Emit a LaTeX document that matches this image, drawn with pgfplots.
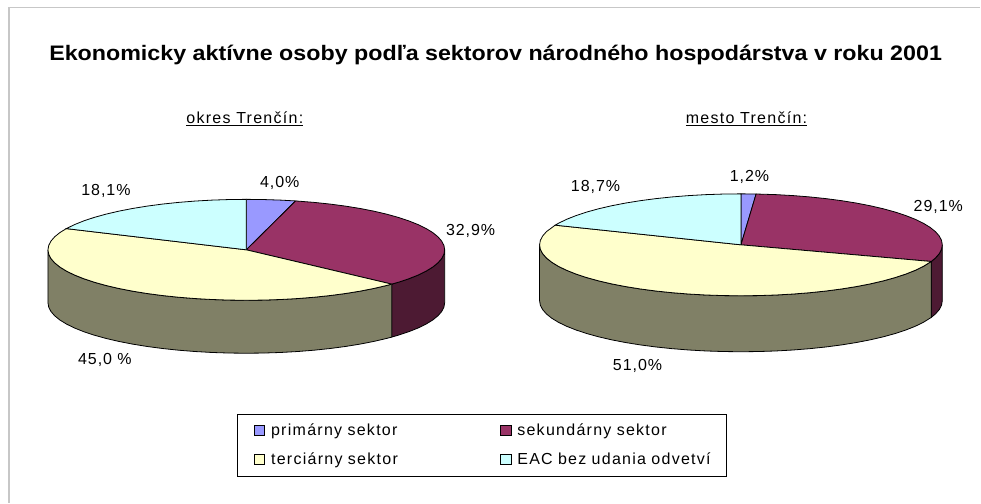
\documentclass[border=0pt]{standalone}
\usepackage{graphicx}
\usepackage{pgfplots}
\pgfplotsset{compat=1.18}
\usepackage{fontspec}
\setmainfont{Liberation Sans}
\newfontfamily\lab[LetterSpace=6]{Liberation Sans}
\newfontfamily\sublab[LetterSpace=8]{Liberation Sans}
\definecolor{cP}{HTML}{9999FF}
\definecolor{cS}{HTML}{993366}
\definecolor{cT}{HTML}{FFFFCC}
\definecolor{cE}{HTML}{CCFFFF}
\definecolor{cSd}{HTML}{4D1A33}
\definecolor{cTd}{HTML}{808066}
\pgfplotsset{
 pieL/.style={/pgfplots/table/row sep=\\,/pgfplots/table/x expr={246.5+198.5*\thisrow{r}*sin(\thisrow{t})},/pgfplots/table/y expr={250-50.5*\thisrow{r}*cos(\thisrow{t})+\thisrow{d}},draw=black,line width=0.8pt,forget plot,no markers},
 pieR/.style={/pgfplots/table/row sep=\\,/pgfplots/table/x expr={741.5+201.5*\thisrow{r}*sin(\thisrow{t})},/pgfplots/table/y expr={245-51*\thisrow{r}*cos(\thisrow{t})+\thisrow{d}},draw=black,line width=0.8pt,forget plot,no markers},
}
\tikzset{lbl/.style={font=\lab\fontsize{16}{18}\selectfont,inner sep=0pt,anchor=center},
 sub/.style={font=\sublab\fontsize{16}{18}\selectfont,inner sep=0pt,anchor=center}}
\begin{document}
\begin{tikzpicture}
\begin{axis}[
 scale only axis,width=981pt,height=503pt,
 xmin=0,xmax=981,ymin=0,ymax=503,y dir=reverse,
 axis lines=none,clip=false,
 legend columns=2,
 legend cell align=left,
 legend image code/.code={\path[draw=none,fill=none] (0pt,0pt) -- (18.5pt,0pt);\draw[#1] (8pt,-5pt) rectangle (18.5pt,5pt);},
 legend style={at={(axis cs:237,414)},anchor=north west,draw=black,line width=0.8pt,
   inner xsep=9pt,inner ysep=10pt,row sep=15.5pt,
   /tikz/column 1/.style={column sep=6pt},
   /tikz/column 3/.style={column sep=6pt},
   /tikz/column 4/.style={nodes={text width=200.5pt}},
   nodes={font=\sublab\fontsize{16}{18}\selectfont,inner sep=0pt,outer sep=0pt,text width=221.5pt,text depth=2pt,text height=11.5pt}},
]
% page extent
\addplot[draw=none,forget plot] coordinates {(0,0) (981,503)};
\path (axis cs:0,0) rectangle (axis cs:981,503);
% frame
\addplot[color=black!22,line width=1.5pt,forget plot] coordinates {(9,503) (9,7.5) (981,7.5)};
% --- left pie: sides
\addplot[pieL,fill=cSd] table {t r d\\ 90 1 0\\ 95 1 0\\ 100 1 0\\ 105 1 0\\ 110 1 0\\ 115 1 0\\ 120 1 0\\ 125 1 0\\ 130 1 0\\ 132.84 1 0\\ 132.84 1 53\\ 130 1 53\\ 125 1 53\\ 120 1 53\\ 115 1 53\\ 110 1 53\\ 105 1 53\\ 100 1 53\\ 95 1 53\\ 90 1 53\\ 90 1 0\\};
\addplot[pieL,fill=cTd] table {t r d\\ 132.84 1 0\\ 135 1 0\\ 140 1 0\\ 145 1 0\\ 150 1 0\\ 155 1 0\\ 160 1 0\\ 165 1 0\\ 170 1 0\\ 175 1 0\\ 180 1 0\\ 185 1 0\\ 190 1 0\\ 195 1 0\\ 200 1 0\\ 205 1 0\\ 210 1 0\\ 215 1 0\\ 220 1 0\\ 225 1 0\\ 230 1 0\\ 235 1 0\\ 240 1 0\\ 245 1 0\\ 250 1 0\\ 255 1 0\\ 260 1 0\\ 265 1 0\\ 270 1 0\\ 270 1 53\\ 265 1 53\\ 260 1 53\\ 255 1 53\\ 250 1 53\\ 245 1 53\\ 240 1 53\\ 235 1 53\\ 230 1 53\\ 225 1 53\\ 220 1 53\\ 215 1 53\\ 210 1 53\\ 205 1 53\\ 200 1 53\\ 195 1 53\\ 190 1 53\\ 185 1 53\\ 180 1 53\\ 175 1 53\\ 170 1 53\\ 165 1 53\\ 160 1 53\\ 155 1 53\\ 150 1 53\\ 145 1 53\\ 140 1 53\\ 135 1 53\\ 132.84 1 53\\ 132.84 1 0\\};
% --- left pie: top
\addplot[pieL,fill=cP] table {t r d\\ 0 0 0\\ 0 1 0\\ 5 1 0\\ 10 1 0\\ 14.4 1 0\\ 0 0 0\\};
\addplot[pieL,fill=cS] table {t r d\\ 0 0 0\\ 14.4 1 0\\ 20 1 0\\ 25 1 0\\ 30 1 0\\ 35 1 0\\ 40 1 0\\ 45 1 0\\ 50 1 0\\ 55 1 0\\ 60 1 0\\ 65 1 0\\ 70 1 0\\ 75 1 0\\ 80 1 0\\ 85 1 0\\ 90 1 0\\ 95 1 0\\ 100 1 0\\ 105 1 0\\ 110 1 0\\ 115 1 0\\ 120 1 0\\ 125 1 0\\ 130 1 0\\ 132.84 1 0\\ 0 0 0\\};
\addplot[pieL,fill=cT] table {t r d\\ 0 0 0\\ 132.84 1 0\\ 135 1 0\\ 140 1 0\\ 145 1 0\\ 150 1 0\\ 155 1 0\\ 160 1 0\\ 165 1 0\\ 170 1 0\\ 175 1 0\\ 180 1 0\\ 185 1 0\\ 190 1 0\\ 195 1 0\\ 200 1 0\\ 205 1 0\\ 210 1 0\\ 215 1 0\\ 220 1 0\\ 225 1 0\\ 230 1 0\\ 235 1 0\\ 240 1 0\\ 245 1 0\\ 250 1 0\\ 255 1 0\\ 260 1 0\\ 265 1 0\\ 270 1 0\\ 275 1 0\\ 280 1 0\\ 285 1 0\\ 290 1 0\\ 294.84 1 0\\ 0 0 0\\};
\addplot[pieL,fill=cE] table {t r d\\ 0 0 0\\ 294.84 1 0\\ 300 1 0\\ 305 1 0\\ 310 1 0\\ 315 1 0\\ 320 1 0\\ 325 1 0\\ 330 1 0\\ 335 1 0\\ 340 1 0\\ 345 1 0\\ 350 1 0\\ 355 1 0\\ 360 1 0\\ 0 0 0\\};
% --- right pie: sides
\addplot[pieR,fill=cSd] table {t r d\\ 90 1 0\\ 95 1 0\\ 100 1 0\\ 105 1 0\\ 109.08 1 0\\ 109.08 1 56\\ 105 1 56\\ 100 1 56\\ 95 1 56\\ 90 1 56\\ 90 1 0\\};
\addplot[pieR,fill=cTd] table {t r d\\ 109.08 1 0\\ 115 1 0\\ 120 1 0\\ 125 1 0\\ 130 1 0\\ 135 1 0\\ 140 1 0\\ 145 1 0\\ 150 1 0\\ 155 1 0\\ 160 1 0\\ 165 1 0\\ 170 1 0\\ 175 1 0\\ 180 1 0\\ 185 1 0\\ 190 1 0\\ 195 1 0\\ 200 1 0\\ 205 1 0\\ 210 1 0\\ 215 1 0\\ 220 1 0\\ 225 1 0\\ 230 1 0\\ 235 1 0\\ 240 1 0\\ 245 1 0\\ 250 1 0\\ 255 1 0\\ 260 1 0\\ 265 1 0\\ 270 1 0\\ 270 1 56\\ 265 1 56\\ 260 1 56\\ 255 1 56\\ 250 1 56\\ 245 1 56\\ 240 1 56\\ 235 1 56\\ 230 1 56\\ 225 1 56\\ 220 1 56\\ 215 1 56\\ 210 1 56\\ 205 1 56\\ 200 1 56\\ 195 1 56\\ 190 1 56\\ 185 1 56\\ 180 1 56\\ 175 1 56\\ 170 1 56\\ 165 1 56\\ 160 1 56\\ 155 1 56\\ 150 1 56\\ 145 1 56\\ 140 1 56\\ 135 1 56\\ 130 1 56\\ 125 1 56\\ 120 1 56\\ 115 1 56\\ 109.08 1 56\\ 109.08 1 0\\};
% --- right pie: top
\addplot[pieR,fill=cP] table {t r d\\ 0 0 0\\ 0 1 0\\ 4.32 1 0\\ 0 0 0\\};
\addplot[pieR,fill=cS] table {t r d\\ 0 0 0\\ 4.32 1 0\\ 10 1 0\\ 15 1 0\\ 20 1 0\\ 25 1 0\\ 30 1 0\\ 35 1 0\\ 40 1 0\\ 45 1 0\\ 50 1 0\\ 55 1 0\\ 60 1 0\\ 65 1 0\\ 70 1 0\\ 75 1 0\\ 80 1 0\\ 85 1 0\\ 90 1 0\\ 95 1 0\\ 100 1 0\\ 105 1 0\\ 109.08 1 0\\ 0 0 0\\};
\addplot[pieR,fill=cT] table {t r d\\ 0 0 0\\ 109.08 1 0\\ 115 1 0\\ 120 1 0\\ 125 1 0\\ 130 1 0\\ 135 1 0\\ 140 1 0\\ 145 1 0\\ 150 1 0\\ 155 1 0\\ 160 1 0\\ 165 1 0\\ 170 1 0\\ 175 1 0\\ 180 1 0\\ 185 1 0\\ 190 1 0\\ 195 1 0\\ 200 1 0\\ 205 1 0\\ 210 1 0\\ 215 1 0\\ 220 1 0\\ 225 1 0\\ 230 1 0\\ 235 1 0\\ 240 1 0\\ 245 1 0\\ 250 1 0\\ 255 1 0\\ 260 1 0\\ 265 1 0\\ 270 1 0\\ 275 1 0\\ 280 1 0\\ 285 1 0\\ 292.68 1 0\\ 0 0 0\\};
\addplot[pieR,fill=cE] table {t r d\\ 0 0 0\\ 292.68 1 0\\ 295 1 0\\ 300 1 0\\ 305 1 0\\ 310 1 0\\ 315 1 0\\ 320 1 0\\ 325 1 0\\ 330 1 0\\ 335 1 0\\ 340 1 0\\ 345 1 0\\ 350 1 0\\ 355 1 0\\ 360 1 0\\ 0 0 0\\};
% legend
\addlegendimage{fill=cP,draw=black,line width=0.8pt}\addlegendentry{primárny sektor}
\addlegendimage{fill=cS,draw=black,line width=0.8pt}\addlegendentry{sekundárny sektor}
\addlegendimage{fill=cT,draw=black,line width=0.8pt}\addlegendentry{terciárny sektor}
\addlegendimage{fill=cE,draw=black,line width=0.8pt}\addlegendentry{EAC bez udania odvetví}
% text
\node[font=\fontsize{21}{24}\selectfont\bfseries,anchor=center,inner sep=0pt] at (axis cs:496,55) {\scalebox{1.108}[1]{Ekonomicky aktívne osoby podľa sektorov národného hospodárstva v roku 2001}};
\node[sub] at (axis cs:245,119) {\underline{okres Trenčín:}};
\node[sub] at (axis cs:747,119) {\underline{mesto Trenčín:}};
\node[lbl] at (axis cs:106,191) {18,1\%};
\node[lbl] at (axis cs:280,183) {4,0\%};
\node[lbl] at (axis cs:471,231) {32,9\%};
\node[lbl] at (axis cs:105,360) {45,0 \%};
\node[lbl] at (axis cs:596,187) {18,7\%};
\node[lbl] at (axis cs:750,177) {1,2\%};
\node[lbl] at (axis cs:939,207) {29,1\%};
\node[lbl] at (axis cs:638,366) {51,0\%};
\end{axis}
\end{tikzpicture}
\end{document}
